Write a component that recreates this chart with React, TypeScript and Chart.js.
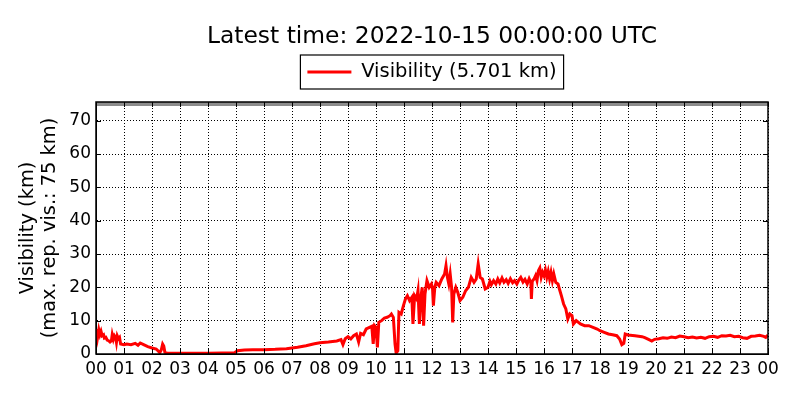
import { useEffect, useRef } from 'react';
import { Chart, registerables } from 'chart.js';

Chart.register(...registerables);

// Time of day (hours since 00 UTC) and visibility (km)
const hours = [
  0.0, 0.03, 0.06, 0.1, 0.14, 0.18, 0.22, 0.27, 0.3, 0.35, 0.4, 0.45, 0.5, 0.55, 0.58, 0.62,
  0.66, 0.7, 0.73, 0.76, 0.8, 0.84, 0.88,
  1.0, 1.1, 1.25, 1.4, 1.5, 1.58, 1.7, 1.85, 2.0, 2.15, 2.28, 2.33, 2.38, 2.42, 2.46, 2.55,
  3.0, 3.5, 4.0, 4.5, 4.95, 5.05, 5.3, 5.6, 6.0, 6.4, 6.8, 7.2, 7.5, 7.8,
  8.0, 8.3, 8.6, 8.75, 8.82, 8.9, 9.0, 9.1, 9.2, 9.3, 9.38, 9.45, 9.55, 9.65, 9.75, 9.85, 9.9, 9.95,
  10.0, 10.05, 10.1, 10.2, 10.3, 10.4, 10.5, 10.55, 10.62, 10.68, 10.72, 10.78, 10.82, 10.9, 10.98,
  11.05, 11.12, 11.2, 11.28, 11.32, 11.38, 11.45, 11.5, 11.55, 11.6, 11.65, 11.7, 11.75, 11.82, 11.9, 11.98,
  12.02, 12.05, 12.1, 12.15, 12.25, 12.35, 12.45, 12.5, 12.55, 12.6, 12.65, 12.7, 12.74, 12.78, 12.85, 12.92,
  13.0, 13.1, 13.2, 13.3, 13.4, 13.5, 13.58, 13.65, 13.72, 13.8, 13.9,
  14.0, 14.07, 14.12, 14.2, 14.28, 14.35, 14.42, 14.5, 14.57, 14.65, 14.72, 14.8, 14.88, 14.95,
  15.03, 15.1, 15.17, 15.25, 15.32, 15.4, 15.47, 15.53, 15.55, 15.58, 15.65, 15.7, 15.75, 15.8,
  15.85, 15.9, 15.95,
  16.0, 16.05, 16.1, 16.15, 16.2, 16.25, 16.3, 16.35, 16.42, 16.5, 16.55, 16.62, 16.7, 16.78,
  16.85, 16.92,
  17.0, 17.05, 17.15, 17.3, 17.45, 17.6, 17.75, 17.9,
  18.0, 18.15, 18.3, 18.45, 18.6, 18.7, 18.78, 18.85, 18.9,
  19.0, 19.25, 19.5, 19.6, 19.75, 19.85, 19.95, 20.1, 20.25, 20.4, 20.55, 20.7, 20.85,
  21.0, 21.15, 21.3, 21.45, 21.6, 21.75, 21.9, 22.05, 22.2, 22.35, 22.5, 22.65, 22.8, 22.95,
  23.1, 23.25, 23.4, 23.55, 23.7, 23.85, 23.92, 24.0,
];
const visibility = [
  6.5, 7.5, 5.2, 7.3, 5.8, 6.8, 5.5, 5.8, 4.8, 5.0, 4.2, 4.0, 3.6, 4.0, 5.8, 4.4,
  5.5, 5.0, 3.5, 5.4, 4.6, 5.0, 3.0,
  2.8, 3.0, 2.8, 3.2, 2.6, 3.3, 2.8, 2.2, 1.8, 1.5, 0.4, 1.2, 3.0, 2.4, 0.5, 0.2,
  0.2, 0.2, 0.2, 0.3, 0.4, 1.0, 1.2, 1.3, 1.3, 1.4, 1.6, 2.0, 2.5, 3.1,
  3.4, 3.6, 3.9, 4.3, 2.8, 4.6, 5.2, 4.5, 5.5, 6.0, 3.6, 6.2, 5.8, 7.5, 7.9, 8.3, 3.0, 8.5,
  8.0, 2.0, 9.5, 10.0, 10.8, 11.0, 11.5, 12.0, 11.0, 3.0, 0.3, 1.0, 12.5, 12.0, 14.5,
  16.5, 17.5, 16.0, 17.0, 9.0, 17.5, 16.5, 19.0, 9.0, 17.0, 20.0, 8.5, 18.0, 22.0, 20.0, 21.0,
  19.5, 14.5, 20.0, 21.5, 20.5, 22.5, 24.0, 26.5, 23.0, 21.0, 24.0, 20.0, 9.5, 18.0, 20.0, 18.5,
  16.0, 17.0, 19.0, 20.0, 23.0, 21.5, 22.5, 27.0, 23.0, 22.5, 19.5,
  20.0, 21.8, 20.8, 22.0, 21.0, 22.5, 21.3, 22.8, 21.5, 22.3, 21.2, 22.6, 21.4, 22.0,
  21.0, 22.2, 23.0, 21.6, 22.4, 21.0, 22.6, 21.5, 16.5, 21.8, 22.6, 23.5, 22.0, 25.0,
  25.8, 23.0, 24.5,
  23.5, 25.2, 23.0, 24.8, 22.5, 24.5, 22.0, 24.0, 21.5, 21.0, 19.5, 17.5, 15.0, 13.5,
  10.5, 12.0,
  11.5, 9.0, 10.0, 9.0, 8.5, 8.5, 8.0, 7.5,
  7.0, 6.5, 6.0, 5.8, 5.5, 4.5, 2.8, 3.2, 6.0,
  5.7, 5.5, 5.2, 4.9, 4.3, 3.9, 4.4, 4.6, 4.9, 4.7, 5.1, 4.9, 5.4,
  5.2, 4.9, 5.1, 4.8, 5.0, 4.7, 5.2, 5.3, 5.0, 5.5, 5.4, 5.6, 5.2, 5.3,
  4.9, 4.7, 5.3, 5.4, 5.6, 5.3, 5.0, 5.701,
];
const hourLabels = [
  '00', '01', '02', '03', '04', '05', '06', '07', '08', '09', '10', '11',
  '12', '13', '14', '15', '16', '17', '18', '19', '20', '21', '22', '23', '00',
];
const maxRepVis = 75;
const latestValue = 5.701;

const FONT = "'DejaVu Sans', sans-serif";

// matplotlib-style frame: box around the axes, inward ticks, and a box around the legend
const framePlugin = {
  id: 'frame',
  afterDraw(chart: any) {
    const { ctx, chartArea: a, scales } = chart;
    ctx.save();
    ctx.strokeStyle = '#000';
    ctx.lineWidth = 1;
    ctx.beginPath();
    scales.x.ticks.forEach((t: any) => {
      const px = Math.round(scales.x.getPixelForValue(t.value)) + 0.5;
      ctx.moveTo(px, a.bottom);
      ctx.lineTo(px, a.bottom - 5);
      ctx.moveTo(px, a.top);
      ctx.lineTo(px, a.top + 5);
    });
    scales.y.ticks.forEach((t: any) => {
      const py = Math.round(scales.y.getPixelForValue(t.value)) + 0.5;
      ctx.moveTo(a.left, py);
      ctx.lineTo(a.left + 5, py);
      ctx.moveTo(a.right, py);
      ctx.lineTo(a.right - 5, py);
    });
    ctx.stroke();
    ctx.lineWidth = 1.5;
    ctx.strokeRect(a.left, a.top, a.right - a.left, a.bottom - a.top);

    const box = chart.legend?.legendHitBoxes?.[0];
    if (box) {
      ctx.lineWidth = 1.2;
      ctx.strokeRect(box.left - 7, box.top - 7.25, box.width + 14, box.height + 14.5);
    }
    ctx.restore();
  },
};

const VisibilityChart = () => {
  const chartRef = useRef<HTMLCanvasElement>(null);
  const chartInstance = useRef<Chart | null>(null);

  useEffect(() => {
    if (!chartRef.current) return;
    if (chartInstance.current) chartInstance.current.destroy();
    const ctx = chartRef.current.getContext('2d');
    if (!ctx) return;

    const series = hours.map((h, i) => ({ x: h, y: visibility[i] }));
    const maxLine = [
      { x: 0, y: maxRepVis },
      { x: 24, y: maxRepVis },
    ];

    chartInstance.current = new Chart(ctx, {
      type: 'line',
      data: {
        datasets: [
          {
            label: `Visibility (${latestValue.toFixed(3)} km)`,
            data: series,
            borderColor: '#ff0000',
            backgroundColor: '#ff0000',
            borderWidth: 3,
            pointRadius: 0,
            tension: 0,
          },
          {
            label: 'max',
            data: maxLine,
            borderColor: 'rgba(120,120,120,0.85)',
            borderWidth: 4,
            pointRadius: 0,
          },
        ],
      },
      plugins: [framePlugin],
      options: {
        responsive: false,
        animation: false,
        devicePixelRatio: 1,
        layout: { padding: { left: 0, right: 32, top: 0, bottom: 0 } },
        plugins: {
          title: {
            display: true,
            text: 'Latest time: 2022-10-15 00:00:00 UTC',
            color: '#000',
            fullSize: false,
            font: { family: FONT, size: 23.4, weight: 'normal', lineHeight: 1 },
            padding: { top: 25, bottom: -6.4 },
          },
          legend: {
            display: true,
            fullSize: false,
            labels: {
              color: '#000',
              font: { family: FONT, size: 19.5 },
              usePointStyle: true,
              pointStyle: 'line',
              pointStyleWidth: 44,
              padding: 20.25,
              filter: (item) => item.datasetIndex === 0,
            },
          },
          tooltip: { enabled: false },
        },
        scales: {
          x: {
            type: 'linear',
            min: 0,
            max: 24,
            afterFit: (scale) => {
              scale.height = 46;
            },
            ticks: {
              stepSize: 1,
              autoSkip: false,
              maxRotation: 0,
              color: '#000',
              padding: 5,
              font: { family: FONT, size: 17 },
              callback: (value) => hourLabels[Number(value)],
            },
            grid: { color: '#000', lineWidth: 1, drawTicks: false },
            border: { display: true, color: '#000', width: 1, dash: [1, 2] },
          },
          // empty spacer between the legend and the axes box
          xTop: {
            type: 'linear',
            position: 'top',
            min: 0,
            max: 24,
            afterFit: (scale) => {
              scale.height = 10.25;
            },
            ticks: { display: false },
            grid: { display: false, drawTicks: false },
            border: { display: false },
          },
          y: {
            min: 0,
            max: 75.6,
            afterFit: (scale) => {
              scale.width = 96;
            },
            ticks: {
              stepSize: 10,
              includeBounds: false,
              color: '#000',
              padding: 5,
              font: { family: FONT, size: 17 },
            },
            grid: { color: '#000', lineWidth: 1, drawTicks: false },
            border: { display: true, color: '#000', width: 1, dash: [1, 2] },
            title: {
              display: true,
              text: ['Visibility (km)', '(max. rep. vis.: 75 km)'],
              color: '#000',
              font: { family: FONT, size: 19.4, lineHeight: 1.13 },
              padding: { top: 17, bottom: 0 },
            },
          },
        },
      },
    });

    return () => {
      if (chartInstance.current) {
        chartInstance.current.destroy();
        chartInstance.current = null;
      }
    };
  }, []);

  return <canvas ref={chartRef} width={800} height={400} />;
};

export default function App() {
  useEffect(() => {
    document.body.style.margin = '0';
  }, []);
  return (
    <div style={{ width: 800, height: 400, background: '#fff' }}>
      <VisibilityChart />
    </div>
  );
}
